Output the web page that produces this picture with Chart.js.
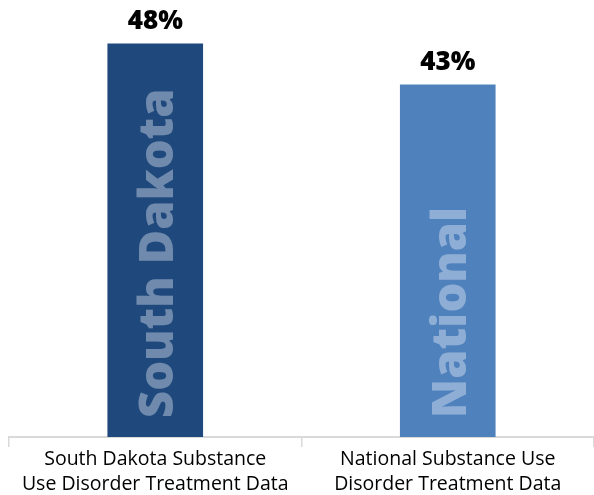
<!DOCTYPE html>
<html>
<head>
<meta charset="utf-8">
<script src="https://cdn.jsdelivr.net/npm/chart.js@4/dist/chart.umd.min.js"></script>
<style>
  html, body { margin: 0; padding: 0; background: #fff; }
  #wrap { width: 594px; height: 495px; position: relative; }
</style>
</head>
<body>
<div id="wrap"><canvas id="c"></canvas></div>
<script>
// Share of treatment data (percent)
const categories = [
  ['South Dakota Substance', 'Use Disorder Treatment Data'],
  ['National Substance Use', 'Disorder Treatment Data']
];
const barNames = ['South Dakota', 'National'];
const values = [48, 43];
const barColors = ['#1F497D', '#4F81BD'];

// Value labels above each bar
const valueLabels = {
  id: 'valueLabels',
  afterDatasetsDraw(chart) {
    const ctx = chart.ctx;
    const meta = chart.getDatasetMeta(0);
    ctx.save();
    ctx.font = '800 26px "Open Sans", sans-serif';
    ctx.fillStyle = '#000';
    ctx.textAlign = 'center';
    ctx.textBaseline = 'alphabetic';
    meta.data.forEach((bar, i) => {
      ctx.fillText(values[i] + '%', bar.x, bar.y - 14);
    });
    ctx.restore();
  }
};

// Faded vertical name written inside each bar
const barNamesPlugin = {
  id: 'barNames',
  afterDatasetsDraw(chart) {
    const ctx = chart.ctx;
    const meta = chart.getDatasetMeta(0);
    ctx.save();
    ctx.font = '800 47px "Open Sans", sans-serif';
    ctx.fillStyle = 'rgba(255,255,255,0.36)';
    ctx.textAlign = 'left';
    ctx.textBaseline = 'alphabetic';
    meta.data.forEach((bar, i) => {
      ctx.save();
      ctx.translate(bar.x + 18, bar.base - 19);
      ctx.rotate(-Math.PI / 2);
      ctx.fillText(barNames[i], 0, 0);
      ctx.restore();
    });
    ctx.restore();
  }
};

new Chart(document.getElementById('c'), {
  type: 'bar',
  data: {
    labels: categories,
    datasets: [{
      data: values,
      backgroundColor: barColors,
      borderWidth: 0,
      categoryPercentage: 1,
      barPercentage: 0.327
    }]
  },
  options: {
    responsive: true,
    maintainAspectRatio: false,
    animation: false,
    layout: { padding: { top: 27, left: 9, right: 0, bottom: 0 } },
    plugins: { legend: { display: false }, tooltip: { enabled: false } },
    scales: {
      y: { display: false, min: 0, max: 50 },
      x: {
        offset: true,
        grid: {
          display: true,
          offset: true,
          drawOnChartArea: false,
          drawTicks: true,
          tickLength: 10,
          color: '#D9D9D9',
          lineWidth: 1.5
        },
        border: { display: true, color: '#D9D9D9', width: 2 },
        ticks: {
          color: '#000',
          padding: 0,
          font: { family: '"Open Sans", sans-serif', size: 19.5, lineHeight: 1.27 },
          maxRotation: 0,
          autoSkip: false
        },
        afterFit(scale) { scale.height = 58; }
      }
    }
  },
  plugins: [valueLabels, barNamesPlugin]
});
</script>
</body>
</html>
